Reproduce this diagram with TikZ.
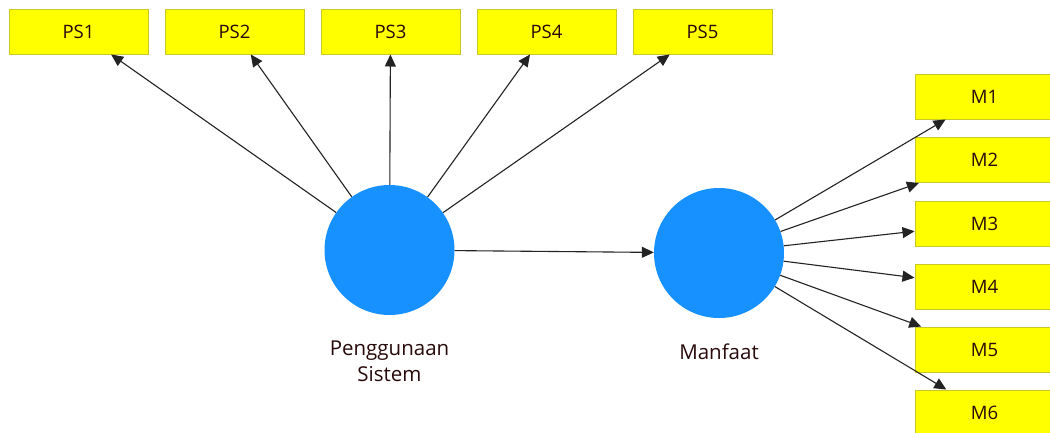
\documentclass[tikz,border=0pt]{standalone}
\usepackage{fontspec}
\setmainfont{Open Sans}
\usetikzlibrary{arrows.meta}
\definecolor{indfill}{RGB}{255,255,0}
\definecolor{inddraw}{RGB}{200,200,40}
\definecolor{latfill}{RGB}{22,145,255}
\definecolor{txt}{RGB}{40,10,10}
\definecolor{edge}{RGB}{35,35,35}
\tikzset{
  indicator/.style={rectangle, fill=indfill, draw=inddraw, line width=1pt,
    minimum width=139pt, minimum height=45pt, inner sep=0pt,
    font=\fontsize{18.5}{22}\selectfont, text=txt},
  latent/.style={circle, fill=latfill, draw=none, minimum size=130pt, inner sep=0pt},
  latlabel/.style={font=\fontsize{20.5}{26}\selectfont, text=txt, align=center},
  path arrow/.style={draw=edge, line width=1.1pt,
    -{Triangle[length=12pt,width=11pt]}},
}
\begin{document}
\begin{tikzpicture}[x=1pt,y=-1pt]
\useasboundingbox (0,0) rectangle (1050,432);
\clip (0,0) rectangle (1050,432);
\fill[white] (0,0) rectangle (1050,432);

% indicators of Penggunaan Sistem
\node[indicator] (ps1) at (78.5,31.5) {PS1};
\node[indicator] (ps2) at (234.5,31.5) {PS2};
\node[indicator] (ps3) at (390.5,31.5) {PS3};
\node[indicator] (ps4) at (546.5,31.5) {PS4};
\node[indicator] (ps5) at (702.5,31.5) {PS5};

% indicators of Manfaat
\node[indicator] (m1) at (984.5,96.5) {M1};
\node[indicator] (m2) at (984.5,160) {M2};
\node[indicator] (m3) at (984.5,223.5) {M3};
\node[indicator] (m4) at (984.5,286.5) {M4};
\node[indicator] (m5) at (984.5,349.5) {M5};
\node[indicator] (m6) at (984.5,412.5) {M6};

% latent variables
\node[latent] (ps) at (389.5,250) {};
\node[latent] (m) at (719,253) {};
\node[latlabel] (pslab) at (389.5,361) {Penggunaan\\Sistem};
\node[latlabel] (mlab) at (719,352) {Manfaat};

% loadings
\foreach \i in {1,...,5} \draw[path arrow] (ps) -- (ps\i);
\foreach \i in {1,...,6} \draw[path arrow] (m) -- (m\i);

% structural path
\draw[path arrow] (ps) -- (m);
\end{tikzpicture}
\end{document}
